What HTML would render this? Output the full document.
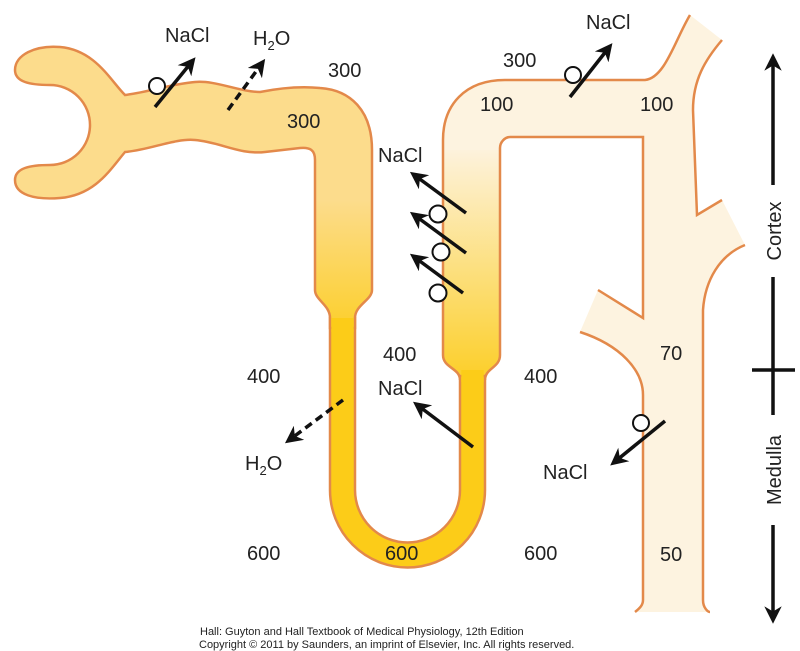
<!DOCTYPE html>
<html><head><meta charset="utf-8"><style>
html,body{margin:0;padding:0;background:#fff;}
svg{display:block;font-family:"Liberation Sans",sans-serif;}
</style></head><body>
<svg width="800" height="651" viewBox="0 0 800 651" xmlns="http://www.w3.org/2000/svg">
<defs>
<linearGradient id="gA" gradientUnits="userSpaceOnUse" x1="0" y1="200" x2="0" y2="320">
<stop offset="0" stop-color="#fcdc8c"/><stop offset="1" stop-color="#fcd033"/></linearGradient>
<linearGradient id="gC" gradientUnits="userSpaceOnUse" x1="0" y1="150" x2="0" y2="370">
<stop offset="0" stop-color="#fdf2dc"/><stop offset="1" stop-color="#fcd030"/></linearGradient>
<marker id="ah" viewBox="0 0 10 10" refX="5" refY="5" markerWidth="5" markerHeight="5" orient="auto"><path d="M0,0 L10,5 L0,10 L3,5 Z" fill="#111"/></marker>
</defs>
<g stroke="#e3894a" stroke-width="2.5">
<path stroke="none" fill="#fdf3e0" d="M460,380 C460,368 443,368 443,355 L443,140 C443,105 465,80 505,80 L645,80 C665,78 675,40 690,15 L722,40 C705,60 693,80 693,110 L697,215 L722,200 L745,245 C720,255 705,280 703,310 L703,600 C703,608 708,612 710,612 L635,612 C640,608 643,605 643,600 L643,395 C643,370 620,345 580,332 L598,290 L643,318 L643,137 L510,137 C505,137 500,142 500,148 L500,355 C500,368 485,368 485,380 Z"/>
<path stroke="none" fill="url(#gC)" d="M460,380 C460,368 443,368 443,355 L443,150 L500,150 L500,355 C500,368 485,368 485,380 Z"/>
<g fill="none">
<path d="M460,380 C460,368 443,368 443,355 L443,140 C443,105 465,80 505,80 L645,80 C665,78 675,40 690,15"/>
<path d="M722,40 C705,60 693,80 693,110 L697,215 L722,200"/>
<path d="M745,245 C720,255 705,280 703,310 L703,600 C703,608 708,612 710,612"/>
<path d="M635,612 C640,608 643,605 643,600 L643,395 C643,370 620,345 580,332"/>
<path d="M598,290 L643,318 L643,137 L510,137 C505,137 500,142 500,148 L500,355 C500,368 485,368 485,380"/>
</g>
<path fill="#fccc18" d="M330,318 L330,490 A77.5 77.5 0 0 0 485,490 L485,376 L460,376 L460,490 A52.5 52.5 0 0 1 355,490 L355,318 Z"/>
<rect x="461.3" y="370" width="22.4" height="12" fill="#fccc18" stroke="none"/>
<path fill="url(#gA)" d="M125,95 C110,80 95,50 60,47 C35,45 15,55 15,70 C15,82 30,85 50,85 A40 40 0 0 1 50,165 C30,165 15,168 15,180 C15,195 35,200 60,198 C95,195 110,170 125,152 C150,150 175,138 195,140 C220,142 240,155 265,152 L300,148 C310,147 315,150 315,160 L315,290 C315,300 330,305 330,318 L330,328 L355,328 L355,318 C355,305 372,300 372,290 L372,150 C372,110 350,90 320,88 C300,86 280,88 260,92 C240,92 215,80 195,82 C170,84 150,92 125,95 Z"/>
<rect x="331.3" y="318" width="22.4" height="14" fill="#fccc18" stroke="none"/>
</g>
<g fill="#fff" stroke="#111" stroke-width="2">
<circle cx="157" cy="86" r="8"/>
<circle cx="573" cy="75" r="8"/>
<circle cx="438" cy="214" r="8.5"/>
<circle cx="441" cy="252" r="8.5"/>
<circle cx="438" cy="293" r="8.5"/>
<circle cx="641" cy="423" r="8"/>
</g>
<g stroke="#111" stroke-width="3.5" fill="none">
<line x1="155" y1="107" x2="190" y2="64" marker-end="url(#ah)"/>
<line x1="228" y1="110" x2="260" y2="66" stroke-dasharray="8,5" marker-end="url(#ah)"/>
<line x1="570" y1="97" x2="607" y2="50" marker-end="url(#ah)"/>
<line x1="466" y1="213" x2="417" y2="177" marker-end="url(#ah)"/>
<line x1="466" y1="253" x2="417" y2="217" marker-end="url(#ah)"/>
<line x1="463" y1="293" x2="417" y2="259" marker-end="url(#ah)"/>
<line x1="343" y1="400" x2="292" y2="438" stroke-dasharray="8,5" marker-end="url(#ah)"/>
<line x1="473" y1="447" x2="420" y2="407" marker-end="url(#ah)"/>
<line x1="665" y1="421" x2="617" y2="460" marker-end="url(#ah)"/>
<line x1="773" y1="185" x2="773" y2="62" marker-end="url(#ah)"/>
<line x1="773" y1="277" x2="773" y2="415"/>
<line x1="752" y1="370" x2="795" y2="370"/>
<line x1="773" y1="525" x2="773" y2="615" marker-end="url(#ah)"/>
</g>
<g font-size="20" fill="#222">
<text x="165" y="42">NaCl</text>
<text x="253" y="45">H<tspan font-size="13" dy="5">2</tspan><tspan dy="-5">O</tspan></text>
<text x="328" y="77">300</text>
<text x="287" y="128">300</text>
<text x="503" y="67">300</text>
<text x="586" y="29">NaCl</text>
<text x="480" y="111">100</text>
<text x="640" y="111">100</text>
<text x="378" y="162">NaCl</text>
<text x="247" y="383">400</text>
<text x="383" y="361">400</text>
<text x="378" y="395">NaCl</text>
<text x="524" y="383">400</text>
<text x="660" y="360">70</text>
<text x="245" y="470">H<tspan font-size="13" dy="5">2</tspan><tspan dy="-5">O</tspan></text>
<text x="543" y="479">NaCl</text>
<text x="247" y="560">600</text>
<text x="385" y="560">600</text>
<text x="524" y="560">600</text>
<text x="660" y="561">50</text>
<text transform="translate(781,231) rotate(-90)" text-anchor="middle">Cortex</text>
<text transform="translate(781,470) rotate(-90)" text-anchor="middle">Medulla</text>
</g>
<g font-size="11" fill="#222">
<text x="200" y="635">Hall: Guyton and Hall Textbook of Medical Physiology, 12th Edition</text>
<text x="199" y="648">Copyright © 2011 by Saunders, an imprint of Elsevier, Inc. All rights reserved.</text>
</g>
</svg>
</body></html>
